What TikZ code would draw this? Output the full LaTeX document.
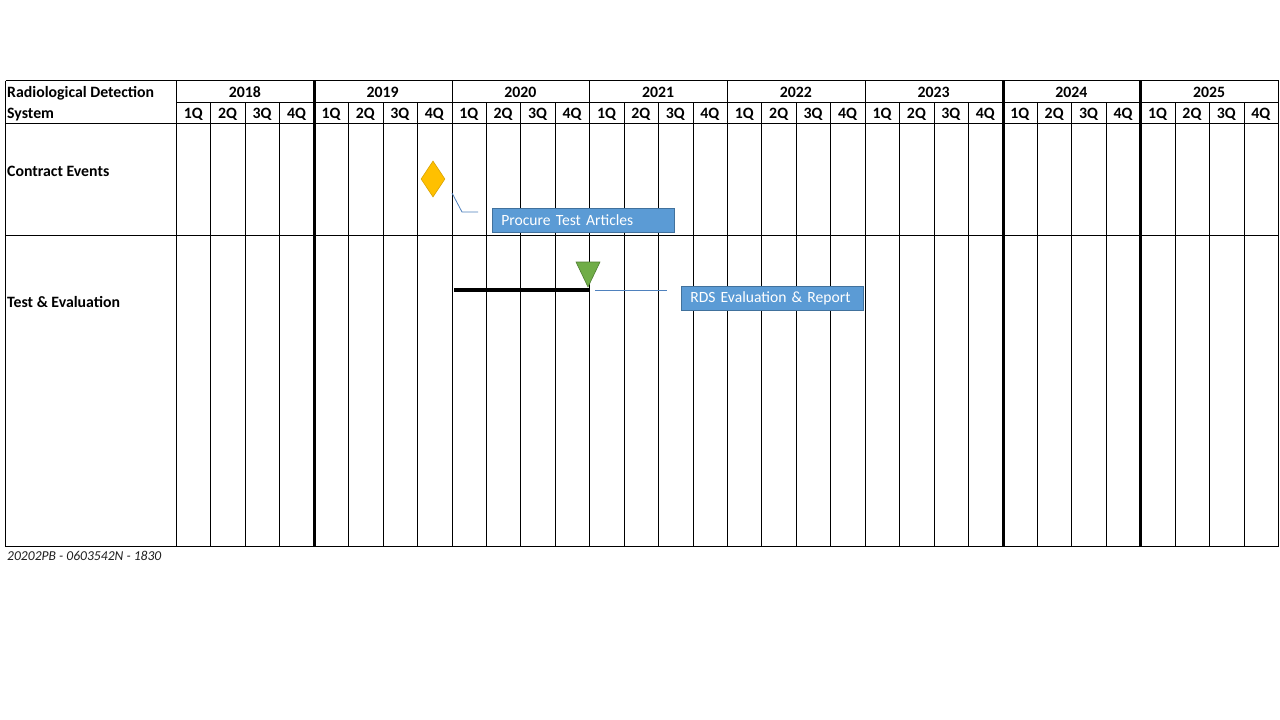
\documentclass[tikz,border=0pt]{standalone}
\usepackage{fontspec}
\setmainfont{Carlito}
\usetikzlibrary{shapes.geometric}
\definecolor{boxblue}{HTML}{5B9BD5}
\definecolor{boxedge}{HTML}{41719C}
\definecolor{linkblue}{HTML}{4F81BD}
\definecolor{msgold}{HTML}{FFC000}
\definecolor{msgoldedge}{HTML}{D9A300}
\definecolor{msgreen}{HTML}{70AD47}
\definecolor{msgreenedge}{HTML}{507E32}
\begin{document}
\begin{tikzpicture}[x=1pt,y=-1pt,
  grid/.style={line width=1pt,black},
  yeargrid/.style={line width=2.6pt,black},
  hdr/.style={font=\fontsize{15.8}{16}\selectfont\bfseries,inner sep=0pt},
  rowlabel/.style={font=\fontsize{15.8}{16}\selectfont\bfseries,inner sep=0pt,anchor=west},
  callbox/.style={fill=boxblue,draw=boxedge,line width=0.6pt,text=white,
    font=\fontsize{15.6}{16}\selectfont,text width=164pt,align=left,inner xsep=9pt,
    minimum height=24pt,inner ysep=0pt},
  callline/.style={linkblue,line width=0.8pt}]
\useasboundingbox (0,0) rectangle (1280,720);
\fill[white] (0,0) rectangle (1280,720);
% horizontal lines
\draw[grid] (5.5,80.5) -- (1278.5,80.5);
\draw[grid] (176.5,102.5) -- (1278.5,102.5);
\draw[grid] (5.5,123.5) -- (1278.5,123.5);
\draw[grid] (5.5,235.5) -- (1278.5,235.5);
\draw[grid] (5.5,546.5) -- (1278.5,546.5);
% vertical lines
\draw[grid] (5.5,80.5) -- (5.5,546.5);
\draw[grid] (176.5,80.5) -- (176.5,546.5);
\draw[grid] (1278.5,80.5) -- (1278.5,546.5);
\foreach \q in {1,...,31}{
  \pgfmathsetmacro{\xx}{round(176+\q*34.4375)+0.5}
  \pgfmathtruncatemacro{\r}{mod(\q,4)}
  \ifnum\r=0
    \draw[grid] (\xx,80.5) -- (\xx,546.5);
  \else
    \draw[grid] (\xx,102.5) -- (\xx,546.5);
  \fi
}
\foreach \q in {4,24,28}{
  \pgfmathsetmacro{\xx}{round(176+\q*34.4375)+0.5}
  \draw[yeargrid] (\xx,80) -- (\xx,547);
}
% header texts
\node[hdr,anchor=base west] (t1) at (7,97) {Radiological Detection};
\node[hdr,anchor=base west] (t2) at (7,118) {System};
\foreach \y [count=\i from 0] in {2018,2019,2020,2021,2022,2023,2024,2025}{
  \pgfmathsetmacro{\xc}{176+\i*137.75+68.875}
  \node[hdr,anchor=base] (y\y) at (\xc,97) {\y};
  \foreach \k in {1,2,3,4}{
    \pgfmathsetmacro{\xq}{176+\i*137.75+(\k-0.5)*34.4375}
    \node[hdr,anchor=base] (q\y-\k) at (\xq,118) {\k Q};
  }
}
\node[rowlabel] (ce) at (7,171) {Contract Events};
\node[rowlabel] (te) at (7,302) {Test \& Evaluation};
% contract event milestone
\node[diamond,draw=msgoldedge,fill=msgold,line width=0.6pt,inner sep=0pt,
  minimum width=24pt,minimum height=36pt] (dia) at (433,179) {};
\node[callbox,anchor=north west] (pta) at (492,207.5) {\raisebox{-1pt}{Procure Test Articles}};
\coordinate (c1) at (452,193);
\coordinate (c2) at (462,212);
\coordinate (c3) at (478,212);
\draw[callline] (c1) -- (c2) -- (c3);
% test & evaluation bar
\coordinate (bs) at (454,290);
\coordinate (be) at (590,290);
\draw[line width=3.2pt,black] (bs) -- (be);
\coordinate (tl) at (576,262);
\coordinate (tr) at (600,262);
\coordinate (ta) at (588,287);
\draw[fill=msgreen,draw=msgreenedge,line width=0.6pt] (tl) -- (tr) -- (ta) -- cycle;
\node[callbox,anchor=north west] (rds) at (681,286) {\raisebox{-1pt}{RDS Evaluation \& Report}};
\coordinate (d1) at (595,290.5);
\coordinate (d2) at (667,290.5);
\draw[callline] (d1) -- (d2);
% footer
\node[anchor=west,inner sep=0pt,font=\fontsize{13.6}{14}\selectfont\itshape,text=black!88] (ft) at (7,556) {20202PB - 0603542N - 1830};
\end{tikzpicture}
\end{document}
